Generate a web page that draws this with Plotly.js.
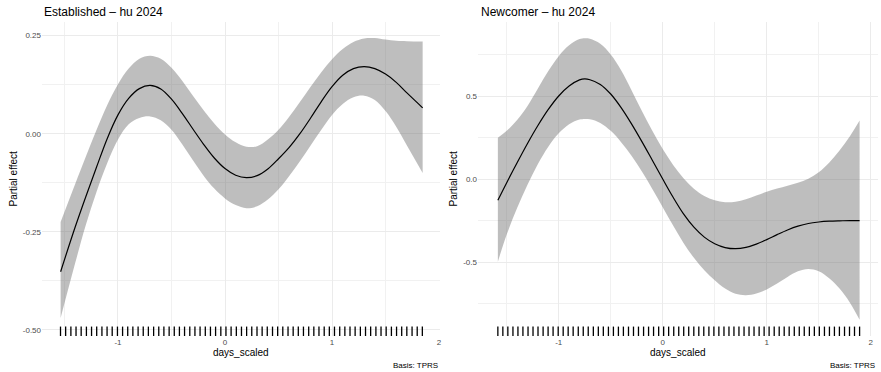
<!DOCTYPE html>
<html>
<head>
<meta charset="utf-8">
<script src="https://cdn.plot.ly/plotly-3.0.1.min.js"></script>
<style>html,body{margin:0;padding:0;background:#fff}#chart{width:881px;height:372px}</style>
</head>
<body>
<div id="chart"></div>
<script>
// ---------- Established ----------
const estX = [-1.536, -1.4, -1.3, -1.2, -1.1, -1.0, -0.9, -0.8, -0.7, -0.6, -0.5, -0.4, -0.3, -0.2, -0.1, 0.0, 0.1, 0.2, 0.3, 0.4, 0.5, 0.6, 0.7, 0.8, 0.9, 1.0, 1.1, 1.2, 1.3, 1.4, 1.5, 1.6, 1.7, 1.847];
const estFit = [-0.352, -0.238, -0.160, -0.085, -0.012, 0.048, 0.090, 0.115, 0.123, 0.114, 0.088, 0.052, 0.012, -0.027, -0.062, -0.089, -0.106, -0.112, -0.107, -0.090, -0.064, -0.035, 0.000, 0.040, 0.082, 0.120, 0.149, 0.166, 0.171, 0.166, 0.152, 0.131, 0.104, 0.066];
const estUpper = [-0.225, -0.128, -0.058, 0.010, 0.073, 0.126, 0.166, 0.191, 0.199, 0.191, 0.168, 0.135, 0.097, 0.060, 0.026, -0.002, -0.022, -0.033, -0.032, -0.015, 0.010, 0.043, 0.081, 0.120, 0.157, 0.190, 0.216, 0.234, 0.243, 0.244, 0.240, 0.237, 0.236, 0.235];
const estLower = [-0.470, -0.330, -0.232, -0.148, -0.075, -0.015, 0.024, 0.040, 0.044, 0.034, 0.010, -0.027, -0.068, -0.107, -0.140, -0.165, -0.182, -0.190, -0.185, -0.168, -0.142, -0.108, -0.070, -0.030, 0.010, 0.048, 0.076, 0.093, 0.097, 0.086, 0.058, 0.018, -0.030, -0.100];
const estRug = [-1.537, -1.489, -1.440, -1.392, -1.344, -1.295, -1.247, -1.199, -1.150, -1.102, -1.054, -1.005, -0.957, -0.909, -0.861, -0.812, -0.764, -0.716, -0.667, -0.619, -0.571, -0.522, -0.474, -0.426, -0.378, -0.329, -0.281, -0.233, -0.184, -0.136, -0.088, -0.039, 0.009, 0.057, 0.106, 0.154, 0.202, 0.250, 0.299, 0.347, 0.395, 0.444, 0.492, 0.540, 0.589, 0.637, 0.685, 0.733, 0.782, 0.830, 0.878, 0.927, 0.975, 1.023, 1.072, 1.120, 1.168, 1.216, 1.265, 1.313, 1.361, 1.410, 1.458, 1.506, 1.555, 1.603, 1.651, 1.699, 1.748, 1.796, 1.844];
const estYTicks = [0.25, 0.0, -0.25, -0.5];
const estYLabels = ["0.25", "0.00", "-0.25", "-0.50"];
const estYMinor = [0.125, -0.125, -0.375];

// ---------- Newcomer ----------
const newX = [-1.585, -1.5, -1.4, -1.3, -1.2, -1.1, -1.0, -0.9, -0.8, -0.75, -0.7, -0.6, -0.5, -0.4, -0.3, -0.2, -0.1, 0.0, 0.1, 0.2, 0.3, 0.4, 0.5, 0.6, 0.7, 0.8, 0.9, 1.0, 1.1, 1.2, 1.3, 1.4, 1.5, 1.6, 1.7, 1.8, 1.893];
const newFit = [-0.128, -0.022, 0.098, 0.214, 0.322, 0.419, 0.500, 0.560, 0.597, 0.603, 0.598, 0.570, 0.512, 0.430, 0.332, 0.225, 0.113, 0.000, -0.110, -0.210, -0.290, -0.350, -0.390, -0.413, -0.420, -0.412, -0.392, -0.365, -0.335, -0.307, -0.284, -0.268, -0.259, -0.254, -0.252, -0.251, -0.251];
const newUpper = [0.248, 0.290, 0.355, 0.440, 0.545, 0.650, 0.740, 0.805, 0.843, 0.848, 0.845, 0.815, 0.750, 0.655, 0.535, 0.410, 0.290, 0.180, 0.085, 0.005, -0.058, -0.102, -0.128, -0.140, -0.137, -0.122, -0.100, -0.077, -0.057, -0.040, -0.022, 0.002, 0.040, 0.098, 0.172, 0.258, 0.352];
const newLower = [-0.498, -0.335, -0.175, -0.035, 0.090, 0.195, 0.275, 0.330, 0.358, 0.362, 0.360, 0.338, 0.290, 0.222, 0.140, 0.045, -0.060, -0.170, -0.280, -0.385, -0.475, -0.550, -0.610, -0.660, -0.692, -0.700, -0.690, -0.665, -0.630, -0.590, -0.556, -0.542, -0.556, -0.598, -0.660, -0.745, -0.848];
const newRug = [-1.585, -1.537, -1.489, -1.440, -1.392, -1.344, -1.295, -1.247, -1.199, -1.150, -1.102, -1.054, -1.005, -0.957, -0.909, -0.861, -0.812, -0.764, -0.716, -0.667, -0.619, -0.571, -0.522, -0.474, -0.426, -0.378, -0.329, -0.281, -0.233, -0.184, -0.136, -0.088, -0.039, 0.009, 0.057, 0.106, 0.154, 0.202, 0.250, 0.299, 0.347, 0.395, 0.444, 0.492, 0.540, 0.589, 0.637, 0.685, 0.733, 0.782, 0.830, 0.878, 0.927, 0.975, 1.023, 1.072, 1.120, 1.168, 1.216, 1.265, 1.313, 1.361, 1.410, 1.458, 1.506, 1.555, 1.603, 1.651, 1.699, 1.748, 1.796, 1.844, 1.893];
const newYTicks = [0.5, 0.0, -0.5];
const newYLabels = ["0.5", "0.0", "-0.5"];
const newYMinor = [0.75, 0.25, -0.25, -0.75];

const xTicks = [-1, 0, 1, 2];
const xLabels = ["-1", "0", "1", "2"];
const xMinor = [-1.5, -0.5, 0.5, 1.5];

const panelTitles = ["Established \u2013 hu 2024", "Newcomer \u2013 hu 2024"];
const xTitle = "days_scaled";
const yTitle = "Partial effect";
const caption = "Basis: TPRS";

const FONT = "Liberation Sans, Arial, Helvetica, sans-serif";
const BAND = "rgba(110,110,110,0.45)";
const GRID = "#ebebeb";

function rugTrace(xs, xa, ya) {
  const x = [], y = [];
  xs.forEach(v => { x.push(v, v, null); y.push(0, 0.03, null); });
  return {x, y, xaxis: xa, yaxis: ya, mode: "lines", line: {color: "#000", width: 1.3}, hoverinfo: "skip", showlegend: false};
}
function bandTraces(xs, up, lo, fit, xa, ya) {
  return [
    {x: xs, y: up, xaxis: xa, yaxis: ya, mode: "lines", line: {width: 0, shape: "spline", smoothing: 1}, hoverinfo: "skip", showlegend: false},
    {x: xs, y: lo, xaxis: xa, yaxis: ya, mode: "lines", fill: "tonexty", fillcolor: BAND, line: {width: 0, shape: "spline", smoothing: 1}, hoverinfo: "skip", showlegend: false},
    {x: xs, y: fit, xaxis: xa, yaxis: ya, mode: "lines", line: {color: "#000", width: 1.2, shape: "spline", smoothing: 1}, showlegend: false}
  ];
}

const data = [
  ...bandTraces(estX, estUpper, estLower, estFit, "x", "y"),
  ...bandTraces(newX, newUpper, newLower, newFit, "x2", "y2"),
  rugTrace(estRug, "x", "y3"),
  rugTrace(newRug, "x2", "y4")
];

const yDom = [36/372, 350/372];
const xAxisBase = {
  tickmode: "array", tickvals: xTicks, ticktext: xLabels, showline: false, zeroline: false, ticks: "",
  gridcolor: GRID, gridwidth: 1, tickfont: {family: FONT, size: 8, color: "#4d4d4d"},
  minor: {tickvals: xMinor, showgrid: true, gridcolor: "#f1f1f1", gridwidth: 1, ticks: ""}
};
const layout = {
  width: 881, height: 372, margin: {l: 0, r: 0, t: 0, b: 0},
  paper_bgcolor: "#fff", plot_bgcolor: "#fff", showlegend: false,
  font: {family: FONT},
  xaxis: Object.assign({}, xAxisBase, {domain: [42/881, 440/881], range: [-1.710, 2.009], anchor: "y"}),
  xaxis2: Object.assign({}, xAxisBase, {domain: [478/881, 878/881], range: [-1.776, 2.070], anchor: "y2"}),
  yaxis: {domain: yDom, range: [-0.516, 0.2849], anchor: "x", tickmode: "array", tickvals: estYTicks, ticktext: estYLabels,
    zeroline: false, showline: false, ticks: "", gridcolor: GRID, tickfont: {family: FONT, size: 8, color: "#4d4d4d"},
    minor: {tickvals: estYMinor, showgrid: true, gridcolor: "#f1f1f1", ticks: ""}},
  yaxis2: {domain: yDom, range: [-0.9458, 0.9458], anchor: "x2", tickmode: "array", tickvals: newYTicks, ticktext: newYLabels,
    zeroline: false, showline: false, ticks: "", gridcolor: GRID, tickfont: {family: FONT, size: 8, color: "#4d4d4d"},
    minor: {tickvals: newYMinor, showgrid: true, gridcolor: "#f1f1f1", ticks: ""}},
  yaxis3: {domain: yDom, range: [0, 1], overlaying: "y", anchor: "x", visible: false, fixedrange: true},
  yaxis4: {domain: yDom, range: [0, 1], overlaying: "y2", anchor: "x2", visible: false, fixedrange: true},
  annotations: [
    {text: panelTitles[0], xref: "paper", yref: "paper", x: 42/881, y: 1 - 12.5/372, xanchor: "left", yanchor: "middle", showarrow: false, font: {family: FONT, size: 12, color: "#000"}},
    {text: panelTitles[1], xref: "paper", yref: "paper", x: 479/881, y: 1 - 12.5/372, xanchor: "left", yanchor: "middle", showarrow: false, font: {family: FONT, size: 12, color: "#000"}},
    {text: xTitle, xref: "paper", yref: "paper", x: 241/881, y: 1 - 352.5/372, xanchor: "center", yanchor: "middle", showarrow: false, font: {family: FONT, size: 10, color: "#000"}},
    {text: xTitle, xref: "paper", yref: "paper", x: 678/881, y: 1 - 352.5/372, xanchor: "center", yanchor: "middle", showarrow: false, font: {family: FONT, size: 10, color: "#000"}},
    {text: yTitle, xref: "paper", yref: "paper", x: 12.5/881, y: 1 - 179/372, xanchor: "center", yanchor: "middle", textangle: -90, showarrow: false, font: {family: FONT, size: 10, color: "#000"}},
    {text: yTitle, xref: "paper", yref: "paper", x: 452.5/881, y: 1 - 179/372, xanchor: "center", yanchor: "middle", textangle: -90, showarrow: false, font: {family: FONT, size: 10, color: "#000"}},
    {text: caption, xref: "paper", yref: "paper", x: 440/881, y: 1 - 365.5/372, xanchor: "right", yanchor: "middle", showarrow: false, font: {family: FONT, size: 8, color: "#000"}},
    {text: caption, xref: "paper", yref: "paper", x: 877/881, y: 1 - 365.5/372, xanchor: "right", yanchor: "middle", showarrow: false, font: {family: FONT, size: 8, color: "#000"}}
  ]
};
Plotly.newPlot("chart", data, layout, {staticPlot: true, displayModeBar: false});
</script>
</body>
</html>
